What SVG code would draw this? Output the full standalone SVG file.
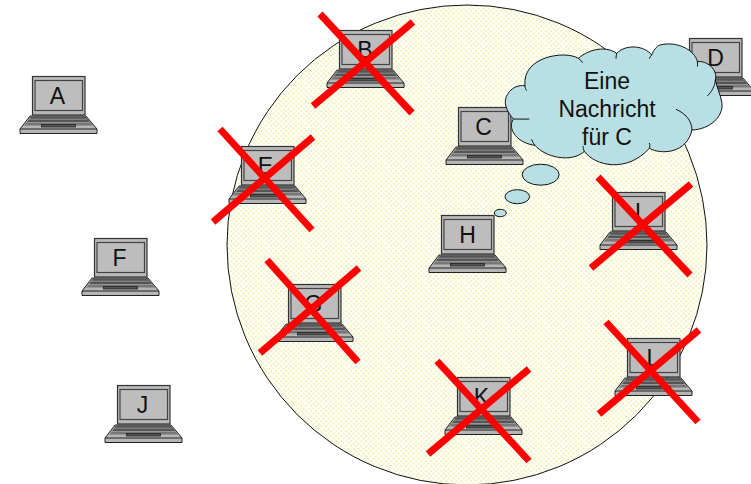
<svg xmlns="http://www.w3.org/2000/svg" xmlns:xlink="http://www.w3.org/1999/xlink" width="751" height="484" viewBox="0 0 751 484">
<style>
text{font-family:"Liberation Sans",Arial,sans-serif;font-size:23px;fill:#111;text-anchor:middle}
.x{stroke:#f00;stroke-width:7;fill:none}
.c{fill:#b8dfe3;stroke:#111;stroke-width:1}
.o{fill:none;stroke:#111;stroke-width:3}
</style>
<defs>
<pattern id="dots" width="5" height="5" patternUnits="userSpaceOnUse">
<rect width="5" height="5" fill="#fff"/>
<circle cx="1.200" cy="1.200" r="1.100" fill="#f0f3b0"/>
<circle cx="3.700" cy="3.700" r="1.100" fill="#f0f3b0"/>
</pattern>
<g id="laptop" stroke="#222" stroke-width="1">
<rect x="0.500" y="0.500" width="52.500" height="38.500" fill="#b9b9b9" stroke="#333" stroke-width="1.200"/>
<rect x="3" y="4.500" width="47.500" height="30" fill="#bdbdbd" stroke="#444" stroke-width="1.200"/>
<path d="M-12,53 L-2,40 L54,40 L65,53 L65,57.500 L-12,57.500 Z" fill="#b5b5b5"/>
<path d="M-1,40.500 L53.500,40.500 L58,46 L-5,46 Z" fill="#555" stroke="none"/>
<path d="M-3,43.200 H55" stroke="#aaa" stroke-width=".7"/>
<path d="M-5.500,46.500 H58.500 L61,49.500 H-8 Z" fill="#777" stroke="none"/>
<rect x="9.500" y="48.500" width="34" height="2.500" fill="#555" stroke="#222" stroke-width=".8"/>
<path d="M-12,53 H65" stroke-width="1"/>
</g>
</defs>

<ellipse id="area" cx="467" cy="245" rx="240" ry="240" fill="url(#dots)" stroke="#111" stroke-width="1"/>

<g id="node-A"><use xlink:href="#laptop" href="#laptop" x="32" y="76"/><text x="57.500" y="104">A</text></g>
<g id="node-B"><use xlink:href="#laptop" href="#laptop" x="339" y="30"/><text x="365" y="58">B</text></g>
<g id="node-C"><use xlink:href="#laptop" href="#laptop" x="458" y="107"/><text x="483.500" y="135">C</text></g>
<g id="node-D"><use xlink:href="#laptop" href="#laptop" x="689" y="38"/><text x="715.500" y="66">D</text></g>
<g id="node-E"><use xlink:href="#laptop" href="#laptop" x="241" y="146"/><text x="265.500" y="174">E</text></g>
<g id="node-F"><use xlink:href="#laptop" href="#laptop" x="94" y="238"/><text x="119.500" y="266">F</text></g>
<g id="node-G"><use xlink:href="#laptop" href="#laptop" x="288" y="284"/><text x="313.500" y="312">G</text></g>
<g id="node-H"><use xlink:href="#laptop" href="#laptop" x="441" y="215"/><text x="467.500" y="243.300">H</text></g>
<g id="node-I"><use xlink:href="#laptop" href="#laptop" x="612" y="192"/><text x="638" y="220">I</text></g>
<g id="node-J"><use xlink:href="#laptop" href="#laptop" x="117" y="385"/><text x="142.500" y="413">J</text></g>
<g id="node-K"><use xlink:href="#laptop" href="#laptop" x="457" y="377"/><text x="481.500" y="405">K</text></g>
<g id="node-L"><use xlink:href="#laptop" href="#laptop" x="627" y="338"/><text x="653" y="366">L</text></g>

<g id="cloud">
<g transform="translate(490,20) scale(.33333)">
<path class="c" style="stroke-width:3" d="M105,197 C65,192 40,230 47,255 C51,275 65,290 70,297 C50,330 85,370 135,376 C165,412 245,430 283,394 C315,438 410,460 478,385 C515,405 590,400 606,330 C660,328 700,290 696,250 C692,225 680,200 676,180 C685,150 650,120 622,125 C615,90 560,62 510,75 C500,78 490,92 485,105 C465,78 410,70 380,100 C350,78 300,85 265,115 C225,90 95,110 105,197 Z"/>
<path class="o" d="M105,197 C105,203 107,208 110,212 M70,297 C85,297 100,298 118,297 M135,376 C130,370 127,365 125,358 M283,394 C280,388 280,384 279,378 M478,385 C480,380 480,375 478,369 M606,330 C605,300 585,280 558,268 M652,228 C665,215 675,198 676,180 M622,125 C623,130 623,135 622,140 M485,105 C482,108 480,112 478,116 M380,100 C379,105 378,110 378,116 M265,115 C270,118 275,123 278,128"/>
</g>
<ellipse class="c" cx="540.700" cy="174.700" rx="18.500" ry="10.500"/>
<ellipse class="c" cx="517.300" cy="196.700" rx="12.300" ry="7"/>
<ellipse class="c" cx="500.300" cy="213" rx="6" ry="3.700"/>
<text x="607" y="89">Eine</text>
<text x="607" y="117">Nachricht</text>
<text x="607" y="145">für C</text>
</g>

<g id="connectors">
<path class="x" d="M320,14 L412,113 M313,106 L413,22"/>
<path class="x" d="M220,129 L312,230 M213,222 L313,137"/>
<path class="x" d="M267,260 L358,362 M260,353 L359,268"/>
<path class="x" d="M598,177 L690,275 M591,268 L691,184"/>
<path class="x" d="M437,361 L529,461 M428,454 L529,369"/>
<path class="x" d="M606,322 L698,422 M599,414 L699,330"/>
</g>
</svg>
